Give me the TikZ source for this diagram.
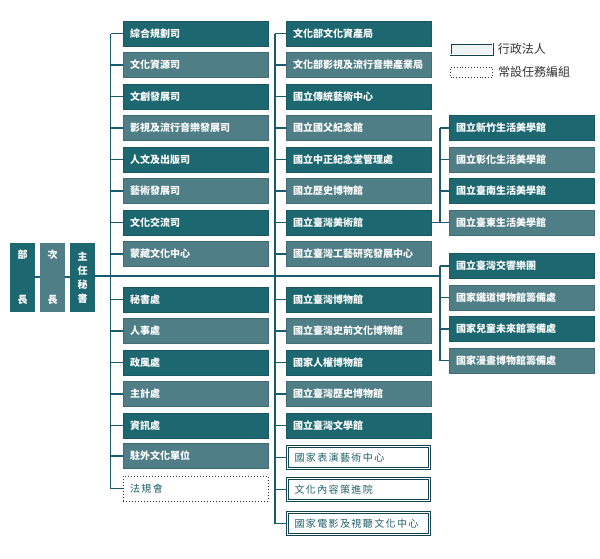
\documentclass[tikz,border=0pt]{standalone}
\usepackage{fontspec}
\setmainfont{Noto Sans CJK TC}
\definecolor{tdark}{HTML}{1D6870}
\definecolor{tlight}{HTML}{4F7E86}
\definecolor{tline}{HTML}{1B5B6E}
\definecolor{ttext}{HTML}{1D5F68}
\begin{document}
\begin{tikzpicture}[x=1pt,y=-1pt,
  box/.style={rectangle, minimum width=145pt, minimum height=25pt, text width=131pt,
    inner xsep=7pt, inner ysep=0pt, align=left, font=\bfseries\fontsize{10}{12}\selectfont},
  dk/.style={box, fill=tdark, draw=tdark!85!black, text=white},
  lt/.style={box, fill=tlight, draw=tlight!85!black, text=white},
  corp/.style={box, fill=white, draw=tline!75!black, double=white, double distance=1.4pt,
    minimum width=142pt, minimum height=22pt, text width=128pt, text=ttext,
    font=\fontsize{10}{12}\selectfont\addfontfeature{LetterSpace=14}},
  dot/.style={box, fill=white, draw=black!80, dotted, line width=1pt, text=ttext,
    font=\fontsize{10}{12}\selectfont\addfontfeature{LetterSpace=14}},
  hd/.style={rectangle, minimum width=25pt, minimum height=69pt, inner sep=0pt,
    align=center, text=white, font=\bfseries\fontsize{10}{14}\selectfont},
  conn/.style={draw=tline, line width=1.6pt},
  legtxt/.style={anchor=west, inner sep=0pt, text=black!80, font=\fontsize{12}{14}\selectfont}
]
\useasboundingbox (0,0) rectangle (600,558);

% head boxes
\node[hd, fill=tdark] (bu) at (22.5,277.5) {部\\[31pt]長};
\node[hd, fill=tlight] (ci) at (52.5,277.5) {次\\[31pt]長};
\node[hd, fill=tdark] (zr) at (82.5,277.5) {主\\任\\秘\\書};

% column 1
\node[dk] (a1) at (195.5,33.5) {綜合規劃司};
\node[lt] (a2) at (195.5,65) {文化資源司};
\node[dk] (a3) at (195.5,96.5) {文創發展司};
\node[lt] (a4) at (195.5,128) {影視及流行音樂發展司};
\node[dk] (a5) at (195.5,159.5) {人文及出版司};
\node[lt] (a6) at (195.5,191) {藝術發展司};
\node[dk] (a7) at (195.5,222.5) {文化交流司};
\node[lt] (a8) at (195.5,254) {蒙藏文化中心};
\node[dk] (b1) at (195.5,299.5) {秘書處};
\node[lt] (b2) at (195.5,331) {人事處};
\node[dk] (b3) at (195.5,362.5) {政風處};
\node[lt] (b4) at (195.5,394) {主計處};
\node[dk] (b5) at (195.5,425.5) {資訊處};
\node[lt] (b6) at (195.5,456) {駐外文化單位};
\node[dot] (b7) at (195.5,488.5) {法規會};

% column 2
\node[dk] (c1) at (358.5,33.5) {文化部文化資產局};
\node[lt] (c2) at (358.5,65) {文化部影視及流行音樂產業局};
\node[dk] (c3) at (358.5,96.5) {國立傳統藝術中心};
\node[lt] (c4) at (358.5,128) {國立國父紀念館};
\node[dk] (c5) at (358.5,159.5) {國立中正紀念堂管理處};
\node[lt] (c6) at (358.5,191) {國立歷史博物館};
\node[dk] (c7) at (358.5,222.5) {國立臺灣美術館};
\node[lt] (c8) at (358.5,254) {國立臺灣工藝研究發展中心};
\node[dk] (d1) at (358.5,299.5) {國立臺灣博物館};
\node[lt] (d2) at (358.5,331) {國立臺灣史前文化博物館};
\node[dk] (d3) at (358.5,362.5) {國家人權博物館};
\node[lt] (d4) at (358.5,394) {國立臺灣歷史博物館};
\node[dk] (d5) at (358.5,425.5) {國立臺灣文學館};
\node[corp] (d6) at (358.5,457.5) {國家表演藝術中心};
\node[corp] (d7) at (358.5,489.5) {文化內容策進院};
\node[corp] (d8) at (358.5,523.5) {國家電影及視聽文化中心};

% column 3
\node[dk] (e1) at (521.5,128) {國立新竹生活美學館};
\node[lt] (e2) at (521.5,159.5) {國立彰化生活美學館};
\node[dk] (e3) at (521.5,191) {國立臺南生活美學館};
\node[lt] (e4) at (521.5,222.5) {國立臺東生活美學館};
\node[dk] (f1) at (521.5,266) {國立臺灣交響樂團};
\node[lt] (f2) at (521.5,297.5) {國家鐵道博物館籌備處};
\node[dk] (f3) at (521.5,329) {國家兒童未來館籌備處};
\node[lt] (f4) at (521.5,360.5) {國家漫畫博物館籌備處};

% legend
\node[draw=tline!70!black, fill=tdark!8, double=white, double distance=1.2pt,
  minimum width=42pt, minimum height=11pt, inner sep=0pt] (lg1) at (471.5,49) {};
\node[draw=black!80, dotted, line width=0.9pt, minimum width=42pt, minimum height=10pt, inner sep=0pt] (lg2) at (471.5,72) {};
\node[legtxt] (lt1) at ([xshift=5pt]lg1.east) {行政法人};
\node[legtxt] (lt2) at ([xshift=5pt]lg2.east) {常設任務編組};

% bus coordinates
\coordinate (v1t) at (110.5,33.5);
\coordinate (v1b) at (110.5,488.5);
\coordinate (v2t) at (275,33.5);
\coordinate (v2b) at (275,523.5);
\coordinate (m3) at (440,276);
\coordinate (u3t) at (440,128);
\coordinate (u3b) at (440,222.5);
\coordinate (l3t) at (440,266);
\coordinate (l3b) at (440,360.5);

% connectors
\draw[conn] (bu.east |- 0,277) -- (ci.west |- 0,277);
\draw[conn] (ci.east |- 0,277) -- (zr.west |- 0,277);
\draw[conn] (zr.east |- 0,276) -- (m3);
\draw[conn] (v1t) -- (v1b);
\draw[conn] (v2t) -- (v2b);
\draw[conn] (u3t) -- (u3b);
\draw[conn] (l3t) -- (l3b);
\foreach \n in {a1,a2,a3,a4,a5,a6,a7,a8,b1,b2,b3,b4,b5,b6,b7}
  \draw[conn] (v1t |- \n.west) -- (\n.west);
\foreach \n in {c1,c2,c3,c4,c5,c6,c7,c8,d1,d2,d3,d4,d5,d6,d7,d8}
  \draw[conn] (v2t |- \n.west) -- (\n.west);
\draw[conn] (c7.east) -- (e4.west);
\foreach \n in {e1,e2,e3,f1,f2,f3,f4}
  \draw[conn] (m3 |- \n.west) -- (\n.west);
\end{tikzpicture}
\end{document}
